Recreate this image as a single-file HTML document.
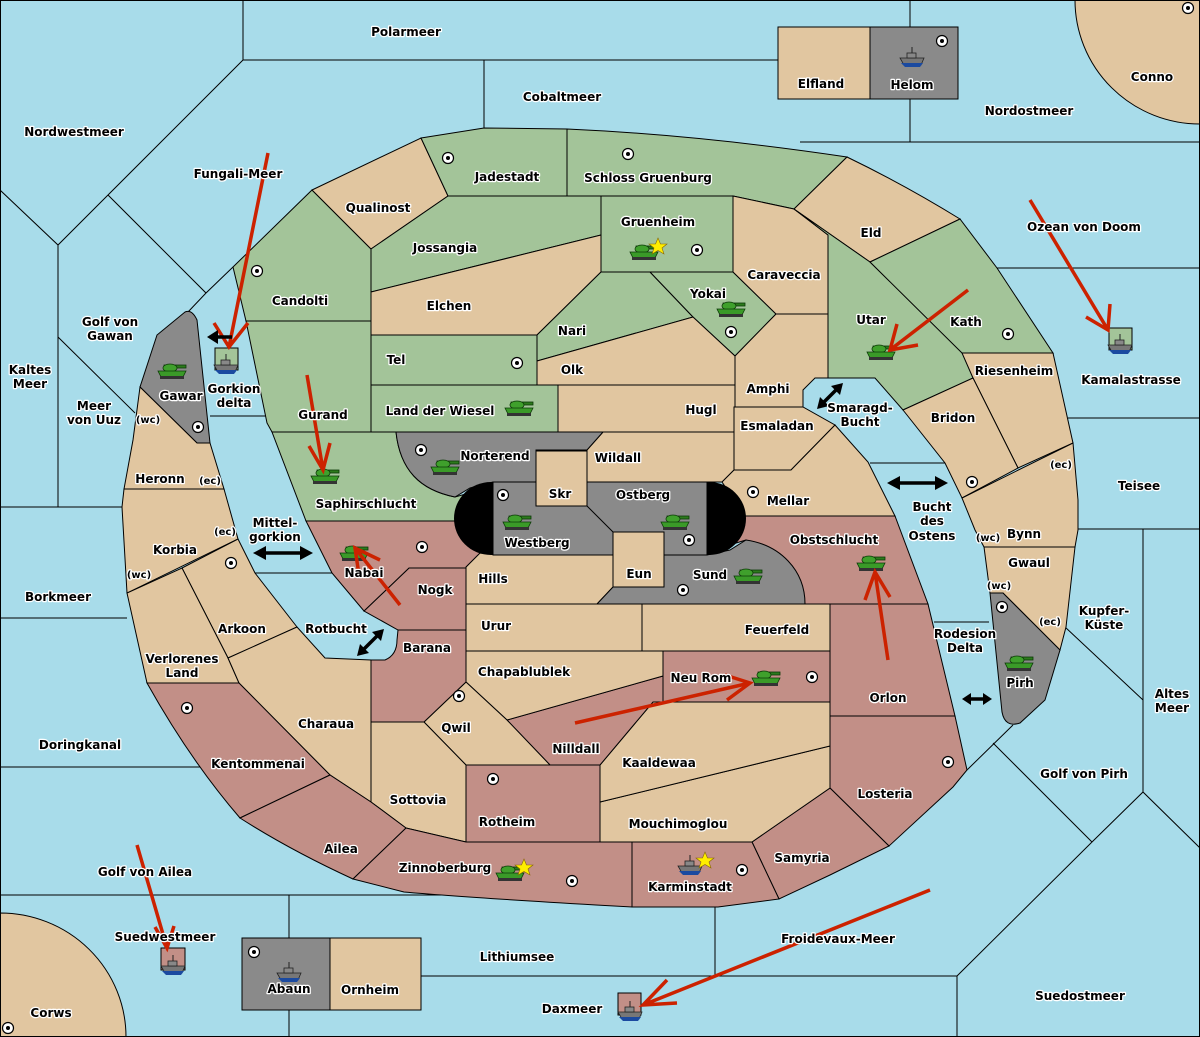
<!DOCTYPE html>
<html><head><meta charset="utf-8"><style>
html,body{margin:0;padding:0;background:#a8dcea}
svg{display:block}
.t{font-family:"DejaVu Sans","Liberation Sans",sans-serif;font-weight:bold;font-size:12px;fill:#000;stroke:#fff;stroke-width:2.5px;paint-order:stroke;stroke-linejoin:round;text-anchor:middle}
.s{font-size:10px}
.r{stroke:#000;stroke-width:1}
.tn{fill:#e1c6a0}.gr{fill:#a3c499}.pk{fill:#c28f87}.gy{fill:#8a8a8a}
.ln{stroke:#000;stroke-width:1;fill:none}
.ar{stroke:#cc2200;stroke-width:3.5;fill:none;stroke-linecap:butt}
.ba{stroke:#000;stroke-width:3.5;fill:none}
</style></head><body>
<svg width="1200" height="1037" viewBox="0 0 1200 1037" xmlns="http://www.w3.org/2000/svg">
<defs>
<g id="tank">
<rect x="-9" y="-6" width="22" height="3" fill="#2c7a1c" stroke="#0d3a08" stroke-width="0.8"/>
<ellipse cx="-3" cy="-3" rx="7" ry="4" fill="#3fa02c" stroke="#0d3a08" stroke-width="0.8"/>
<path d="M-15,0 L13,0 L10,6 L-12,6 Z" fill="#3a9a28" stroke="#0d3a08" stroke-width="0.8"/>
<rect x="-13" y="5" width="24" height="3" fill="#333"/>
</g>
<g id="ship">
<path d="M-12,0 L12,0 L9,7 L-8,7 Z" fill="#777" stroke="#222" stroke-width="0.8"/>
<path d="M-11,5 L11,5 L8,9 L-7,9 Z" fill="#1b4aa0"/>
<rect x="-5" y="-5" width="9" height="5" fill="#888" stroke="#222" stroke-width="0.8"/>
<line x1="0" y1="-11" x2="0" y2="-5" stroke="#222"/>
</g>
<g id="sc"><circle r="5.5" fill="#fff" stroke="#000" stroke-width="1.2"/><circle r="2" fill="#000"/></g>
</defs>
<rect x="0" y="0" width="1200" height="1037" fill="#a8dcea"/>
<g class="ln">
<path d="M243,0 V60 H778 M484,60 V128 M243,60 L108,195 L58,245 L0,190 M58,245 V507 M108,195 L206,293 L233,267 M206,293 L188,312 M58,337 L135,413 M0,507 H122 M0,618 H127 M0,767 H202 M0,895 H459 M289,895 V938 M289,1009 V1037 M421,976 H957 M715,907 V976 M957,976 V1037 M957,976 L1092,842 L993,743 M1092,842 L1143,792 L1200,848 M1143,529 V792 M1065,627 L1143,700 M1078,529 H1200 M1068,418 H1200 M997,268 H1200 M800,142 H1200 M910,0 V142 M210,416 H266 M255,573 H332 M870,463 H945 M934,622 H989 M1013,725 L967,770"/>
</g>
<path class="r tn" d="M1075,0 A125,124 0 0 0 1200,124 V0 Z"/>
<path class="r tn" d="M0,913 A126,124 0 0 1 126,1037 H0 Z"/>
<rect class="r tn" x="778" y="27" width="92" height="72"/>
<rect class="r gy" x="870" y="27" width="88" height="72"/>
<rect class="r gy" x="242" y="938" width="88" height="72"/>
<rect class="r tn" x="330" y="938" width="91" height="72"/>
<rect class="r gr" x="215" y="348" width="23" height="22"/>
<rect class="r gr" x="1109" y="328" width="23" height="22"/>
<rect class="r pk" x="161" y="948" width="24" height="22"/>
<rect class="r pk" x="618" y="993" width="23" height="22"/>
<g class="r">
<polygon class="gr" points="233,267 312,190 371,249 371,321 246,321"/>
<polygon class="gr" points="246,321 371,321 371,432 272,432 267,423"/>
<polygon class="tn" points="312,190 421,138 448,196 371,249"/>
<polygon class="gr" points="421,138 484,128 567,129 567,196 448,196"/>
<path class="gr" d="M567,129 Q700,135 847,157 L794,209 L733,196 L567,196 Z"/>
<polygon class="gr" points="448,196 601,196 601,235 371,292 371,249"/>
<polygon class="tn" points="371,292 601,235 601,272 537,335 371,335"/>
<polygon class="gr" points="601,196 733,196 733,272 601,272"/>
<polygon class="gr" points="601,272 650,272 693,317 537,361 537,335"/>
<polygon class="gr" points="650,272 733,272 776,314 735,356 693,317"/>
<polygon class="tn" points="537,361 693,317 735,356 735,385 537,385"/>
<polygon class="gr" points="371,335 537,335 537,385 371,385"/>
<polygon class="gr" points="371,385 558,385 558,432 371,432"/>
<polygon class="tn" points="558,385 735,385 735,432 558,432"/>
<polygon class="tn" points="733,196 794,209 828,235 828,314 776,314 733,272"/>
<path class="tn" d="M847,157 Q905,185 960,219 L870,262 L794,209 Z"/>
<polygon class="gr" points="828,235 794,209 870,262 963,353 973,378 903,410 875,378 828,378"/>
<polygon class="gr" points="870,262 960,219 997,268 1053,353 962,353"/>
<polygon class="tn" points="962,353 1053,353 1073,443 1018,468 973,378"/>
<polygon class="tn" points="903,410 973,378 1018,468 962,498 945,463"/>
<path class="tn" d="M962,498 L1073,443 L1078,500 L1078,530 L1075,547 L984,547 L975,530 Z"/>
<polygon class="tn" points="984,547 1075,547 1066,627 1060,650 1003,593 990,593"/>
<path class="gy" d="M990,593 L1003,593 L1060,650 L1045,700 L1020,723 Q1005,728 1002,712 Z"/>
<polygon class="tn" points="735,356 776,314 828,314 828,378 815,378 803,390 803,407 735,407"/>
<polygon class="tn" points="734,407 803,407 835,425 791,470 734,470"/>
<polygon class="tn" points="603,432 734,432 734,470 722,482 587,482 587,450"/>
<polygon class="tn" points="734,470 791,470 835,425 868,462 895,516 745,516 722,482"/>
<polygon class="pk" points="720,516 895,516 928,604 805,604 746,540 720,548"/>
<polygon class="pk" points="830,604 928,604 955,716 830,716"/>
<polygon class="pk" points="830,716 955,716 967,770 953,787 889,846 830,788"/>
<polygon class="pk" points="752,842 830,788 889,846 830,875 779,899"/>
<polygon class="pk" points="632,842 752,842 779,899 718,907 632,907"/>
<polygon class="tn" points="600,802 830,746 830,788 752,842 600,842"/>
<polygon class="tn" points="653,702 830,702 830,746 600,802 600,765"/>
<polygon class="pk" points="663,651 830,651 830,702 663,702"/>
<polygon class="pk" points="507,720 663,676 663,702 653,702 600,765 550,765"/>
<polygon class="tn" points="466,651 663,651 663,676 507,720 466,682"/>
<polygon class="tn" points="466,682 507,720 550,765 466,765 424,722"/>
<polygon class="pk" points="466,765 600,765 600,842 466,842"/>
<polygon class="tn" points="466,604 642,604 642,651 466,651"/>
<polygon class="tn" points="642,604 830,604 830,651 642,651"/>
<polygon class="tn" points="466,567 479,553 613,555 613,587 597,604 466,604"/>
<path class="gy" d="M613,587 L664,587 L664,555 L707,555 L730,550 L746,540 C780,545 805,570 805,604 L597,604 Z"/>
<polygon class="tn" points="371,722 424,722 466,765 466,842 406,828 371,802"/>
<path class="pk" d="M398,630 L466,630 L466,682 L424,722 L371,722 L371,660 L385,660 Q397,655 397,640 Z"/>
<polygon class="pk" points="409,568 466,568 466,630 398,630 364,611"/>
<polygon class="pk" points="306,521 480,521 480,553 466,567 466,568 409,568 364,611 332,573"/>
<path class="gr" d="M272,432 L396,432 C400,470 420,490 455,497 L480,490 L480,521 L306,521 Z"/>
<path class="gy" d="M396,432 L603,432 L587,450 L536,450 L536,482 L493,482 L470,488 L455,497 C420,490 400,470 396,432 Z"/>
<path class="gy" d="M185,312 Q192,309 197,320 L210,443 L197,443 L140,387 L157,335 Z"/>
<path class="tn" d="M140,387 L197,443 L210,443 L224,489 L124,489 L133,440 Z"/>
<polygon class="tn" points="124,489 224,489 238,539 127,593 122,507"/>
<polygon class="tn" points="238,539 255,573 297,627 228,658 182,568"/>
<polygon class="tn" points="127,593 182,568 228,658 239,683 147,683"/>
<polygon class="tn" points="297,627 325,658 371,660 371,802 330,775 239,683 228,658"/>
<path class="pk" d="M147,683 L239,683 L330,775 L240,818 Q190,760 147,683 Z"/>
<path class="pk" d="M240,818 L330,775 L371,802 L406,828 L353,879 Q290,850 240,818 Z"/>
<path class="pk" d="M353,879 L406,828 L466,842 L632,842 L632,907 L596,905 Q460,897 404,892 Z"/>
</g>
<rect x="454" y="482" width="292" height="73" rx="37" ry="37" fill="#000"/>
<rect x="493" y="482" width="214" height="73" fill="#8a8a8a" stroke="#000"/>
<polygon class="r tn" points="536,451 587,451 587,506 536,506"/>
<line class="ln" x1="587" y1="506" x2="613" y2="532"/>
<polygon class="r tn" points="613,532 664,532 664,587 613,587"/>
<g>
<use href="#sc" x="448" y="158"/><use href="#sc" x="628" y="154"/><use href="#sc" x="697" y="250"/>
<use href="#sc" x="257" y="271"/><use href="#sc" x="517" y="363"/><use href="#sc" x="731" y="332"/>
<use href="#sc" x="1008" y="334"/><use href="#sc" x="198" y="427"/><use href="#sc" x="421" y="450"/>
<use href="#sc" x="503" y="495"/><use href="#sc" x="689" y="540"/><use href="#sc" x="753" y="492"/>
<use href="#sc" x="683" y="590"/><use href="#sc" x="422" y="547"/><use href="#sc" x="231" y="563"/>
<use href="#sc" x="972" y="482"/><use href="#sc" x="1002" y="607"/><use href="#sc" x="812" y="677"/>
<use href="#sc" x="459" y="696"/><use href="#sc" x="187" y="708"/><use href="#sc" x="493" y="779"/>
<use href="#sc" x="948" y="762"/><use href="#sc" x="572" y="881"/><use href="#sc" x="742" y="870"/>
<use href="#sc" x="254" y="952"/><use href="#sc" x="942" y="41"/><use href="#sc" x="1188" y="8"/>
<use href="#sc" x="8" y="1028"/>
</g>
<g>
<use href="#tank" x="645" y="252"/><use href="#tank" x="732" y="309"/><use href="#tank" x="882" y="352"/>
<use href="#tank" x="173" y="371"/><use href="#tank" x="520" y="408"/><use href="#tank" x="446" y="467"/>
<use href="#tank" x="326" y="476"/><use href="#tank" x="518" y="522"/><use href="#tank" x="676" y="522"/>
<use href="#tank" x="355" y="553"/><use href="#tank" x="872" y="563"/><use href="#tank" x="749" y="576"/>
<use href="#tank" x="1020" y="663"/><use href="#tank" x="767" y="678"/><use href="#tank" x="511" y="873"/>
<use href="#ship" x="226" y="365"/><use href="#ship" x="1120" y="345"/><use href="#ship" x="912" y="58"/>
<use href="#ship" x="690" y="866"/><use href="#ship" x="289" y="973"/><use href="#ship" x="173" y="966"/>
<use href="#ship" x="630" y="1012"/>
</g>
<g fill="#ffee00" stroke="#886600" stroke-width="0.6">
<polygon points="658,238 660.5,244 667,244 662,248 664,254 658,250.5 652,254 654,248 649,244 655.5,244"/>
<polygon points="524,859 526.5,865 533,865 528,869 530,875 524,871.5 518,875 520,869 515,865 521.5,865"/>
<polygon points="705,852 707.5,858 714,858 709,862 711,868 705,864.5 699,868 701,862 696,858 702.5,858"/>
</g>
<g class="ar">
<path d="M268,153 L229,347 M214,323 L229,347 L248,323"/>
<path d="M307,375 L323,470 M309,446 L323,470 L330,443"/>
<path d="M1030,200 L1108,330 M1086,317 L1108,330 L1110,304"/>
<path d="M968,290 L890,350 M897,324 L890,350 L918,345"/>
<path d="M400,605 L355,548 M359,575 L355,548 L380,560"/>
<path d="M575,723 L750,683 M725,675 L750,683 L727,700"/>
<path d="M888,660 L875,572 M865,600 L875,572 L890,597"/>
<path d="M137,845 L167,948 M155,927 L167,948 L174,926"/>
<path d="M930,890 L643,1005 M667,980 L643,1005 L677,1003"/>
</g>
<g class="ba">
<path d="M262,553 H304"/><path d="M896,483 H939"/><path d="M968,699 H985"/>
<path d="M824,402 L837,389"/><path d="M364,649 L377,636"/><path d="M216,337 H232"/>
</g>
<g fill="#000">
<polygon points="253,553 266,546 266,560"/><polygon points="313,553 300,546 300,560"/>
<polygon points="887,483 900,476 900,490"/><polygon points="948,483 935,476 935,490"/>
<polygon points="962,699 971,693 971,705"/><polygon points="992,699 983,693 983,705"/>
<polygon points="817,409 820,397 829,406"/><polygon points="843,383 840,395 831,386"/>
<polygon points="357,656 360,644 369,653"/><polygon points="384,629 381,641 372,632"/>
<polygon points="207,337 218,330 218,344"/>
</g>
<g class="t">
<text x="406" y="36">Polarmeer</text><text x="562" y="101">Cobaltmeer</text><text x="74" y="136">Nordwestmeer</text>
<text x="821" y="88">Elfland</text><text x="912" y="89">Helom</text><text x="1152" y="81">Conno</text>
<text x="1029" y="115">Nordostmeer</text><text x="238" y="178">Fungali-Meer</text><text x="378" y="212">Qualinost</text>
<text x="507" y="181">Jadestadt</text><text x="648" y="182">Schloss Gruenburg</text><text x="658" y="226">Gruenheim</text>
<text x="445" y="252">Jossangia</text><text x="871" y="237">Eld</text><text x="1084" y="231">Ozean von Doom</text>
<text x="784" y="279">Caraveccia</text><text x="300" y="305">Candolti</text><text x="449" y="310">Elchen</text>
<text x="708" y="298">Yokai</text><text x="871" y="324">Utar</text><text x="966" y="326">Kath</text>
<text x="572" y="335">Nari</text><text x="110" y="326">Golf von</text><text x="110" y="340">Gawan</text>
<text x="30" y="374">Kaltes</text><text x="30" y="388">Meer</text><text x="396" y="364">Tel</text>
<text x="572" y="374">Olk</text><text x="1014" y="375">Riesenheim</text><text x="1131" y="384">Kamalastrasse</text>
<text x="768" y="393">Amphi</text><text x="181" y="400">Gawar</text><text x="234" y="393">Gorkion</text><text x="234" y="407">delta</text>
<text x="94" y="410">Meer</text><text x="94" y="424">von Uuz</text><text class="s" x="148" y="423">(wc)</text>
<text x="323" y="419">Gurand</text><text x="440" y="415">Land der Wiesel</text><text x="701" y="414">Hugl</text>
<text x="860" y="412">Smaragd-</text><text x="860" y="426">Bucht</text><text x="953" y="422">Bridon</text>
<text x="777" y="430">Esmaladan</text><text x="495" y="460">Norterend</text><text x="618" y="462">Wildall</text>
<text class="s" x="1061" y="468">(ec)</text><text x="160" y="483">Heronn</text><text class="s" x="210" y="484">(ec)</text>
<text x="1139" y="490">Teisee</text><text x="560" y="498">Skr</text><text x="643" y="499">Ostberg</text>
<text x="788" y="505">Mellar</text><text x="366" y="508">Saphirschlucht</text>
<text x="932" y="511">Bucht</text><text x="932" y="525">des</text><text x="932" y="540">Ostens</text>
<text x="275" y="527">Mittel-</text><text x="275" y="541">gorkion</text><text class="s" x="225" y="535">(ec)</text>
<text class="s" x="988" y="541">(wc)</text><text x="1024" y="538">Bynn</text><text x="537" y="547">Westberg</text>
<text x="834" y="544">Obstschlucht</text><text x="175" y="554">Korbia</text><text x="1029" y="567">Gwaul</text>
<text x="639" y="578">Eun</text><text x="710" y="579">Sund</text><text x="364" y="577">Nabai</text>
<text class="s" x="139" y="578">(wc)</text><text x="493" y="583">Hills</text><text x="435" y="594">Nogk</text>
<text class="s" x="999" y="589">(wc)</text><text x="58" y="601">Borkmeer</text>
<text x="1104" y="615">Kupfer-</text><text x="1104" y="629">Küste</text><text class="s" x="1050" y="625">(ec)</text>
<text x="496" y="630">Urur</text><text x="777" y="634">Feuerfeld</text><text x="242" y="633">Arkoon</text>
<text x="336" y="633">Rotbucht</text><text x="965" y="638">Rodesion</text><text x="965" y="652">Delta</text>
<text x="427" y="652">Barana</text><text x="182" y="663">Verlorenes</text><text x="182" y="677">Land</text>
<text x="524" y="676">Chapablublek</text><text x="701" y="682">Neu Rom</text><text x="1020" y="687">Pirh</text>
<text x="1172" y="698">Altes</text><text x="1172" y="712">Meer</text><text x="888" y="702">Orlon</text>
<text x="326" y="728">Charaua</text><text x="456" y="732">Qwil</text><text x="80" y="749">Doringkanal</text>
<text x="576" y="753">Nilldall</text><text x="659" y="767">Kaaldewaa</text><text x="258" y="768">Kentommenai</text>
<text x="1084" y="778">Golf von Pirh</text><text x="885" y="798">Losteria</text><text x="418" y="804">Sottovia</text>
<text x="507" y="826">Rotheim</text><text x="678" y="828">Mouchimoglou</text><text x="341" y="853">Ailea</text>
<text x="802" y="862">Samyria</text><text x="445" y="872">Zinnoberburg</text><text x="145" y="876">Golf von Ailea</text>
<text x="690" y="891">Karminstadt</text><text x="838" y="943">Froidevaux-Meer</text><text x="165" y="941">Suedwestmeer</text>
<text x="517" y="961">Lithiumsee</text><text x="289" y="993">Abaun</text><text x="370" y="994">Ornheim</text>
<text x="1080" y="1000">Suedostmeer</text><text x="572" y="1013">Daxmeer</text><text x="51" y="1017">Corws</text>
</g>
<rect x="0.5" y="0.5" width="1199" height="1036" fill="none" stroke="#000"/>
</svg>
</body></html>
